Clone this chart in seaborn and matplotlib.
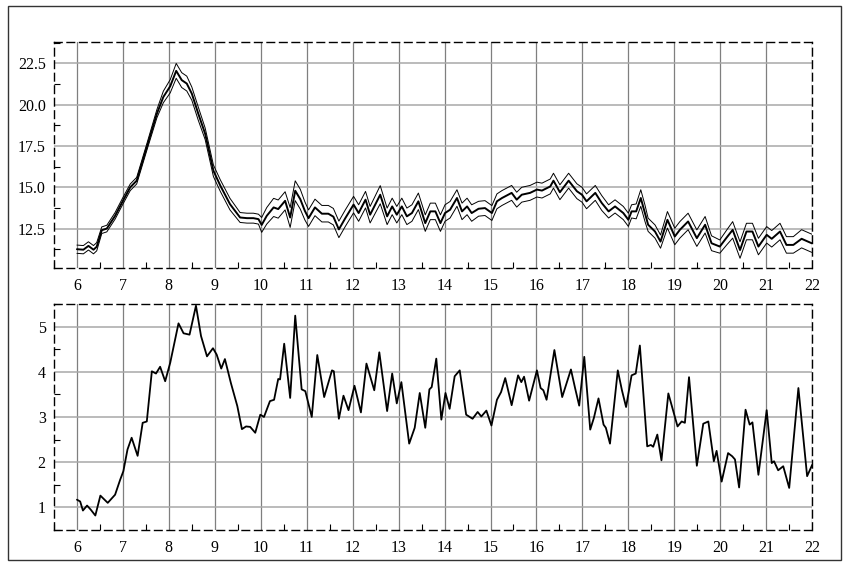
import numpy as np
import pandas as pd
import matplotlib
matplotlib.use("Agg")
import matplotlib.pyplot as plt
from matplotlib.patches import Rectangle
from matplotlib.ticker import MultipleLocator
import seaborn as sns

# --- data ---
top_x = [6.00, 6.14, 6.25, 6.36, 6.43, 6.54, 6.65, 6.83, 7.00, 7.16,
         7.30, 7.52, 7.74, 7.88, 8.03, 8.16, 8.28, 8.39, 8.50, 8.64,
         8.79, 8.97, 9.12, 9.33, 9.55, 9.70, 9.84, 9.95, 10.02, 10.13,
         10.28, 10.38, 10.53, 10.64, 10.75, 10.86, 10.96, 11.04, 11.18, 11.33,
         11.47, 11.58, 11.70, 11.84, 12.02, 12.13, 12.28, 12.38, 12.60, 12.75,
         12.86, 12.96, 13.07, 13.18, 13.29, 13.43, 13.58, 13.69, 13.80, 13.91,
         14.01, 14.12, 14.27, 14.38, 14.49, 14.59, 14.74, 14.88, 15.03, 15.14,
         15.25, 15.46, 15.57, 15.68, 15.86, 16.01, 16.12, 16.30, 16.37, 16.51,
         16.70, 16.88, 16.99, 17.09, 17.28, 17.42, 17.57, 17.71, 17.89, 18.00,
         18.07, 18.17, 18.27, 18.36, 18.43, 18.58, 18.70, 18.85, 19.01, 19.12,
         19.30, 19.49, 19.67, 19.81, 19.99, 20.14, 20.27, 20.43, 20.57, 20.70,
         20.83, 21.01, 21.12, 21.30, 21.44, 21.59, 21.77, 21.99]
top_mean = [11.25, 11.22, 11.45, 11.22, 11.40, 12.40, 12.50, 13.27, 14.18, 15.00,
            15.40, 17.43, 19.46, 20.47, 21.12, 22.05, 21.49, 21.28, 20.67, 19.46,
            18.24, 16.00, 15.10, 13.98, 13.17, 13.13, 13.13, 13.07, 12.72, 13.27,
            13.78, 13.68, 14.18, 13.17, 14.79, 14.28, 13.57, 13.13, 13.78, 13.40,
            13.40, 13.22, 12.45, 13.13, 13.95, 13.44, 14.25, 13.34, 14.55, 13.24,
            13.84, 13.34, 13.84, 13.24, 13.44, 14.15, 12.83, 13.54, 13.54, 12.83,
            13.44, 13.64, 14.35, 13.54, 13.84, 13.44, 13.70, 13.74, 13.44, 14.15,
            14.35, 14.66, 14.25, 14.55, 14.66, 14.86, 14.80, 15.05, 15.40, 14.70,
            15.40, 14.76, 14.55, 14.15, 14.66, 14.05, 13.54, 13.84, 13.44, 13.03,
            13.54, 13.54, 14.35, 13.44, 12.73, 12.32, 11.71, 13.03, 12.02, 12.42,
            12.93, 11.92, 12.73, 11.61, 11.41, 11.96, 12.42, 11.20, 12.32, 12.32,
            11.41, 12.12, 11.88, 12.32, 11.51, 11.51, 11.88, 11.61]
top_spread = [0.25, 0.25, 0.25, 0.25, 0.25, 0.20, 0.20, 0.20, 0.20, 0.20,
              0.20, 0.20, 0.25, 0.35, 0.40, 0.45, 0.45, 0.45, 0.40, 0.40,
              0.35, 0.35, 0.35, 0.35, 0.30, 0.30, 0.30, 0.30, 0.45, 0.50,
              0.55, 0.55, 0.55, 0.60, 0.60, 0.60, 0.55, 0.50, 0.50, 0.50,
              0.50, 0.50, 0.50, 0.50, 0.50, 0.50, 0.50, 0.50, 0.55, 0.50,
              0.50, 0.50, 0.50, 0.50, 0.50, 0.50, 0.50, 0.50, 0.50, 0.50,
              0.50, 0.50, 0.50, 0.50, 0.50, 0.50, 0.45, 0.45, 0.45, 0.45,
              0.45, 0.45, 0.45, 0.45, 0.45, 0.45, 0.45, 0.45, 0.45, 0.45,
              0.45, 0.45, 0.45, 0.45, 0.45, 0.45, 0.40, 0.40, 0.40, 0.40,
              0.40, 0.45, 0.50, 0.50, 0.40, 0.40, 0.40, 0.50, 0.50, 0.50,
              0.50, 0.50, 0.50, 0.45, 0.40, 0.45, 0.50, 0.50, 0.50, 0.50,
              0.50, 0.50, 0.50, 0.50, 0.50, 0.50, 0.55, 0.55]

bot_x = [6.00, 6.07, 6.13, 6.22, 6.30, 6.40, 6.51, 6.67, 6.83, 6.94,
         7.01, 7.10, 7.19, 7.32, 7.43, 7.52, 7.63, 7.72, 7.81, 7.92,
         8.03, 8.21, 8.32, 8.45, 8.59, 8.70, 8.83, 8.96, 9.04, 9.14,
         9.22, 9.35, 9.49, 9.59, 9.68, 9.77, 9.88, 9.99, 10.07, 10.20,
         10.29, 10.38, 10.42, 10.51, 10.64, 10.75, 10.89, 10.97, 11.11, 11.23,
         11.38, 11.55, 11.59, 11.70, 11.80, 11.91, 12.04, 12.18, 12.30, 12.38,
         12.47, 12.58, 12.75, 12.86, 12.96, 13.06, 13.23, 13.35, 13.46, 13.58,
         13.67, 13.72, 13.82, 13.93, 14.02, 14.11, 14.22, 14.33, 14.47, 14.61,
         14.72, 14.80, 14.91, 15.02, 15.14, 15.23, 15.32, 15.46, 15.60, 15.67,
         15.73, 15.84, 16.01, 16.09, 16.15, 16.22, 16.39, 16.56, 16.75, 16.84,
         16.93, 17.04, 17.17, 17.25, 17.35, 17.46, 17.51, 17.60, 17.77, 17.86,
         17.95, 18.07, 18.16, 18.25, 18.41, 18.49, 18.54, 18.63, 18.72, 18.87,
         19.07, 19.16, 19.23, 19.32, 19.49, 19.63, 19.74, 19.86, 19.92, 20.03,
         20.17, 20.26, 20.32, 20.41, 20.55, 20.64, 20.70, 20.83, 21.01, 21.12,
         21.17, 21.26, 21.37, 21.50, 21.70, 21.89, 22.00]
bot_y = [1.17, 1.13, 0.93, 1.04, 0.95, 0.82, 1.26, 1.10, 1.28, 1.61,
         1.80, 2.28, 2.54, 2.14, 2.87, 2.90, 4.01, 3.96, 4.11, 3.79,
         4.20, 5.07, 4.85, 4.82, 5.46, 4.79, 4.34, 4.52, 4.38, 4.07,
         4.28, 3.75, 3.24, 2.73, 2.79, 2.78, 2.65, 3.05, 3.00, 3.35,
         3.38, 3.84, 3.83, 4.62, 3.42, 5.24, 3.61, 3.57, 3.00, 4.37,
         3.44, 4.03, 4.01, 2.96, 3.47, 3.15, 3.69, 3.10, 4.18, 3.90,
         3.59, 4.43, 3.13, 3.96, 3.30, 3.77, 2.41, 2.76, 3.53, 2.76,
         3.61, 3.66, 4.29, 2.94, 3.53, 3.18, 3.90, 4.03, 3.05, 2.96,
         3.11, 3.01, 3.14, 2.81, 3.38, 3.55, 3.86, 3.26, 3.92, 3.77,
         3.89, 3.36, 4.03, 3.64, 3.59, 3.38, 4.48, 3.44, 4.05, 3.64,
         3.25, 4.33, 2.72, 2.98, 3.41, 2.83, 2.76, 2.41, 4.03, 3.59,
         3.22, 3.92, 3.96, 4.58, 2.35, 2.38, 2.34, 2.61, 2.04, 3.52,
         2.79, 2.90, 2.87, 3.88, 1.92, 2.85, 2.90, 2.02, 2.25, 1.57,
         2.20, 2.13, 2.06, 1.44, 3.16, 2.83, 2.88, 1.72, 3.15, 1.98,
         2.02, 1.82, 1.91, 1.43, 3.64, 1.69, 1.94]

sns.set_style("white")
plt.rcParams['font.family'] = ['Liberation Serif', 'DejaVu Serif']

top = pd.DataFrame({"x": top_x, "mean": top_mean, "spread": top_spread})
top["upper"] = top["mean"] + top["spread"]
top["lower"] = top["mean"] - top["spread"]
bot = pd.DataFrame({"x": bot_x, "y": bot_y})

fig = plt.figure(figsize=(8.5, 5.67), dpi=100)
fig.patches.append(Rectangle((0.0094, 0.0123), 0.98, 0.977, transform=fig.transFigure,
                             fill=False, edgecolor='#333333', linewidth=1.0))

ax1 = fig.add_axes([0.0635, 0.527, 0.892, 0.399])
ax2 = fig.add_axes([0.0635, 0.0653, 0.892, 0.3987])

sns.lineplot(data=top, x="x", y="upper", ax=ax1, color='black', linewidth=0.7)
sns.lineplot(data=top, x="x", y="lower", ax=ax1, color='black', linewidth=0.7)
sns.lineplot(data=top, x="x", y="mean", ax=ax1, color='black', linewidth=1.4)
sns.lineplot(data=bot, x="x", y="y", ax=ax2, color='black', linewidth=1.3)

ax1.set_ylim(10.1, 23.8)
ax1.yaxis.set_major_locator(MultipleLocator(2.5))
ax1.yaxis.set_minor_locator(MultipleLocator(1.25))
ax2.set_ylim(0.5, 5.5)
ax2.yaxis.set_major_locator(MultipleLocator(1))
ax2.yaxis.set_minor_locator(MultipleLocator(0.5))

for ax in (ax1, ax2):
    ax.set_xlim(5.5, 22)
    ax.xaxis.set_major_locator(MultipleLocator(1))
    ax.xaxis.set_minor_locator(MultipleLocator(0.5))
    ax.set_xlim(5.5, 22)
    ax.set_xlabel("")
    ax.set_ylabel("")
    ax.grid(True, which='major', axis='x', color='#7f7f7f', linewidth=0.9)
    ax.grid(True, which='major', axis='y', color='#a8a8a8', linewidth=1.1)
    for side in ('top', 'bottom', 'left', 'right'):
        ax.spines[side].set_visible(True)
        ax.spines[side].set_color('black')
        ax.spines[side].set_linewidth(1.0)
        ax.spines[side].set_linestyle((0, (5.5, 3.5)))
    ax.tick_params(which='major', direction='out', length=3, width=0.8,
                   colors='black', labelsize=11.5, pad=3)
    ax.tick_params(which='minor', direction='in', length=4, width=0.8,
                   colors='black', left=True, bottom=True)
    ax.tick_params(axis='x', pad=4)

fig.savefig("out.png", dpi=100)
